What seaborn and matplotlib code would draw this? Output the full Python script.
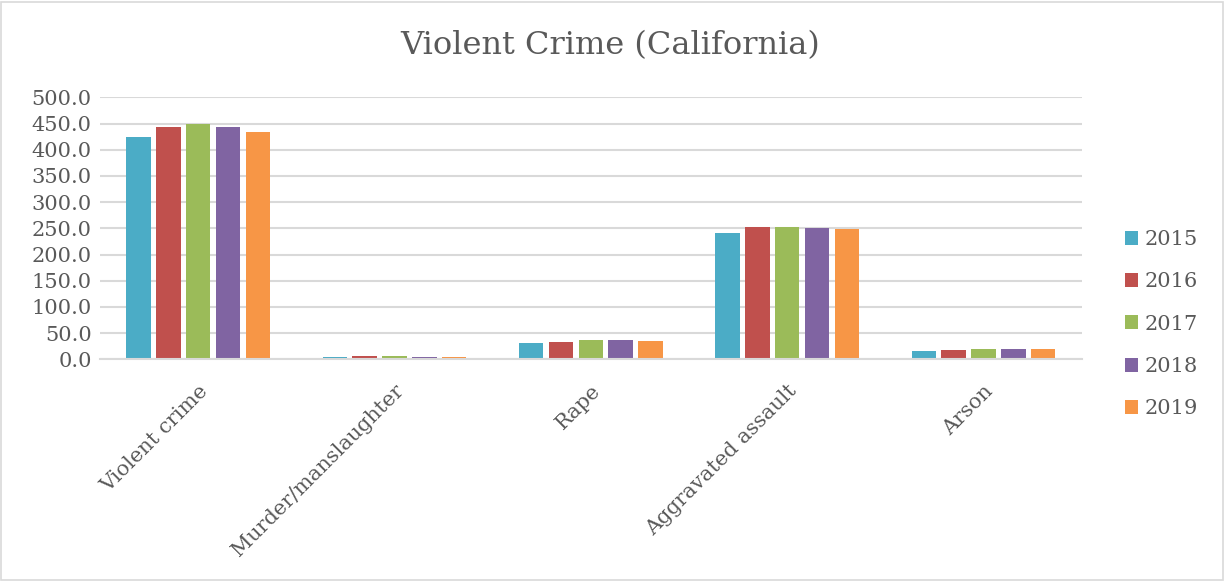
import matplotlib
matplotlib.use("Agg")
import matplotlib.pyplot as plt
from matplotlib.patches import Rectangle
import seaborn as sns
import pandas as pd

categories = ["Violent crime", "Murder/manslaughter", "Rape", "Aggravated assault", "Arson"]
years = ["2015", "2016", "2017", "2018", "2019"]
v2015 = [424.0, 4.8, 30.8, 240.5, 16.5]
v2016 = [443.0, 5.4, 33.4, 252.5, 18.0]
v2017 = [450.0, 5.8, 36.0, 252.0, 19.8]
v2018 = [443.0, 4.6, 37.6, 250.0, 19.9]
v2019 = [433.0, 4.3, 35.8, 248.0, 19.5]
yticks = [0, 50, 100, 150, 200, 250, 300, 350, 400, 450, 500]
title = "Violent Crime (California)"

colors = ["#4BACC6", "#C0504D", "#9BBB59", "#8064A2", "#F79646"]
text_color = "#595959"
grid_color = "#D9D9D9"

rows = []
for yr, vals in zip(years, [v2015, v2016, v2017, v2018, v2019]):
    for c, v in zip(categories, vals):
        rows.append({"category": c, "year": yr, "value": v})
df = pd.DataFrame(rows)

sns.set_theme(style="white")
plt.rcParams["font.family"] = ["DejaVu Serif"]

fig = plt.figure(figsize=(12.25, 5.82), dpi=100)
ax = fig.add_axes([0.0816, 0.3826, 0.8014, 0.4502])

sns.barplot(data=df, x="category", y="value", hue="year", order=categories,
            hue_order=years, palette=colors, width=0.76, gap=0.18,
            saturation=1, linewidth=0, ax=ax, legend=True)

ax.set_ylim(0, 500)
ax.set_xlim(-0.5, 4.5)
ax.set_yticks(yticks)
ax.set_yticklabels([f"{t:.1f}" for t in yticks], color=text_color, fontsize=15)
ax.set_xticks(range(len(categories)))
ax.set_xticklabels(categories, rotation=45, ha="right", rotation_mode="anchor",
                   color=text_color, fontsize=15)
ax.tick_params(axis="y", length=0, pad=6)
ax.tick_params(axis="x", length=0, pad=16)
ax.set_xlabel("")
ax.set_ylabel("")
ax.set_axisbelow(True)
ax.yaxis.grid(True, color=grid_color, linewidth=1.5)
for s in ["top", "right", "left"]:
    ax.spines[s].set_visible(False)
ax.spines["bottom"].set_color(grid_color)
ax.spines["bottom"].set_linewidth(1.5)

handles, labels = ax.get_legend_handles_labels()
ax.get_legend().remove()
fig.legend(handles, labels, loc="center left", bbox_to_anchor=(0.903, 0.443),
           frameon=False, fontsize=15, handlelength=0.65, handleheight=0.65,
           handletextpad=0.3, labelspacing=1.12, labelcolor=text_color)

fig.text(0.498, 0.922, title, ha="center", va="center", fontsize=23, color=text_color)

fig.patches.append(Rectangle((0.001, 0.004), 0.997, 0.993, transform=fig.transFigure,
                             fill=False, edgecolor="#D9D9D9", linewidth=1.2))

fig.savefig("out.png", dpi=100)
